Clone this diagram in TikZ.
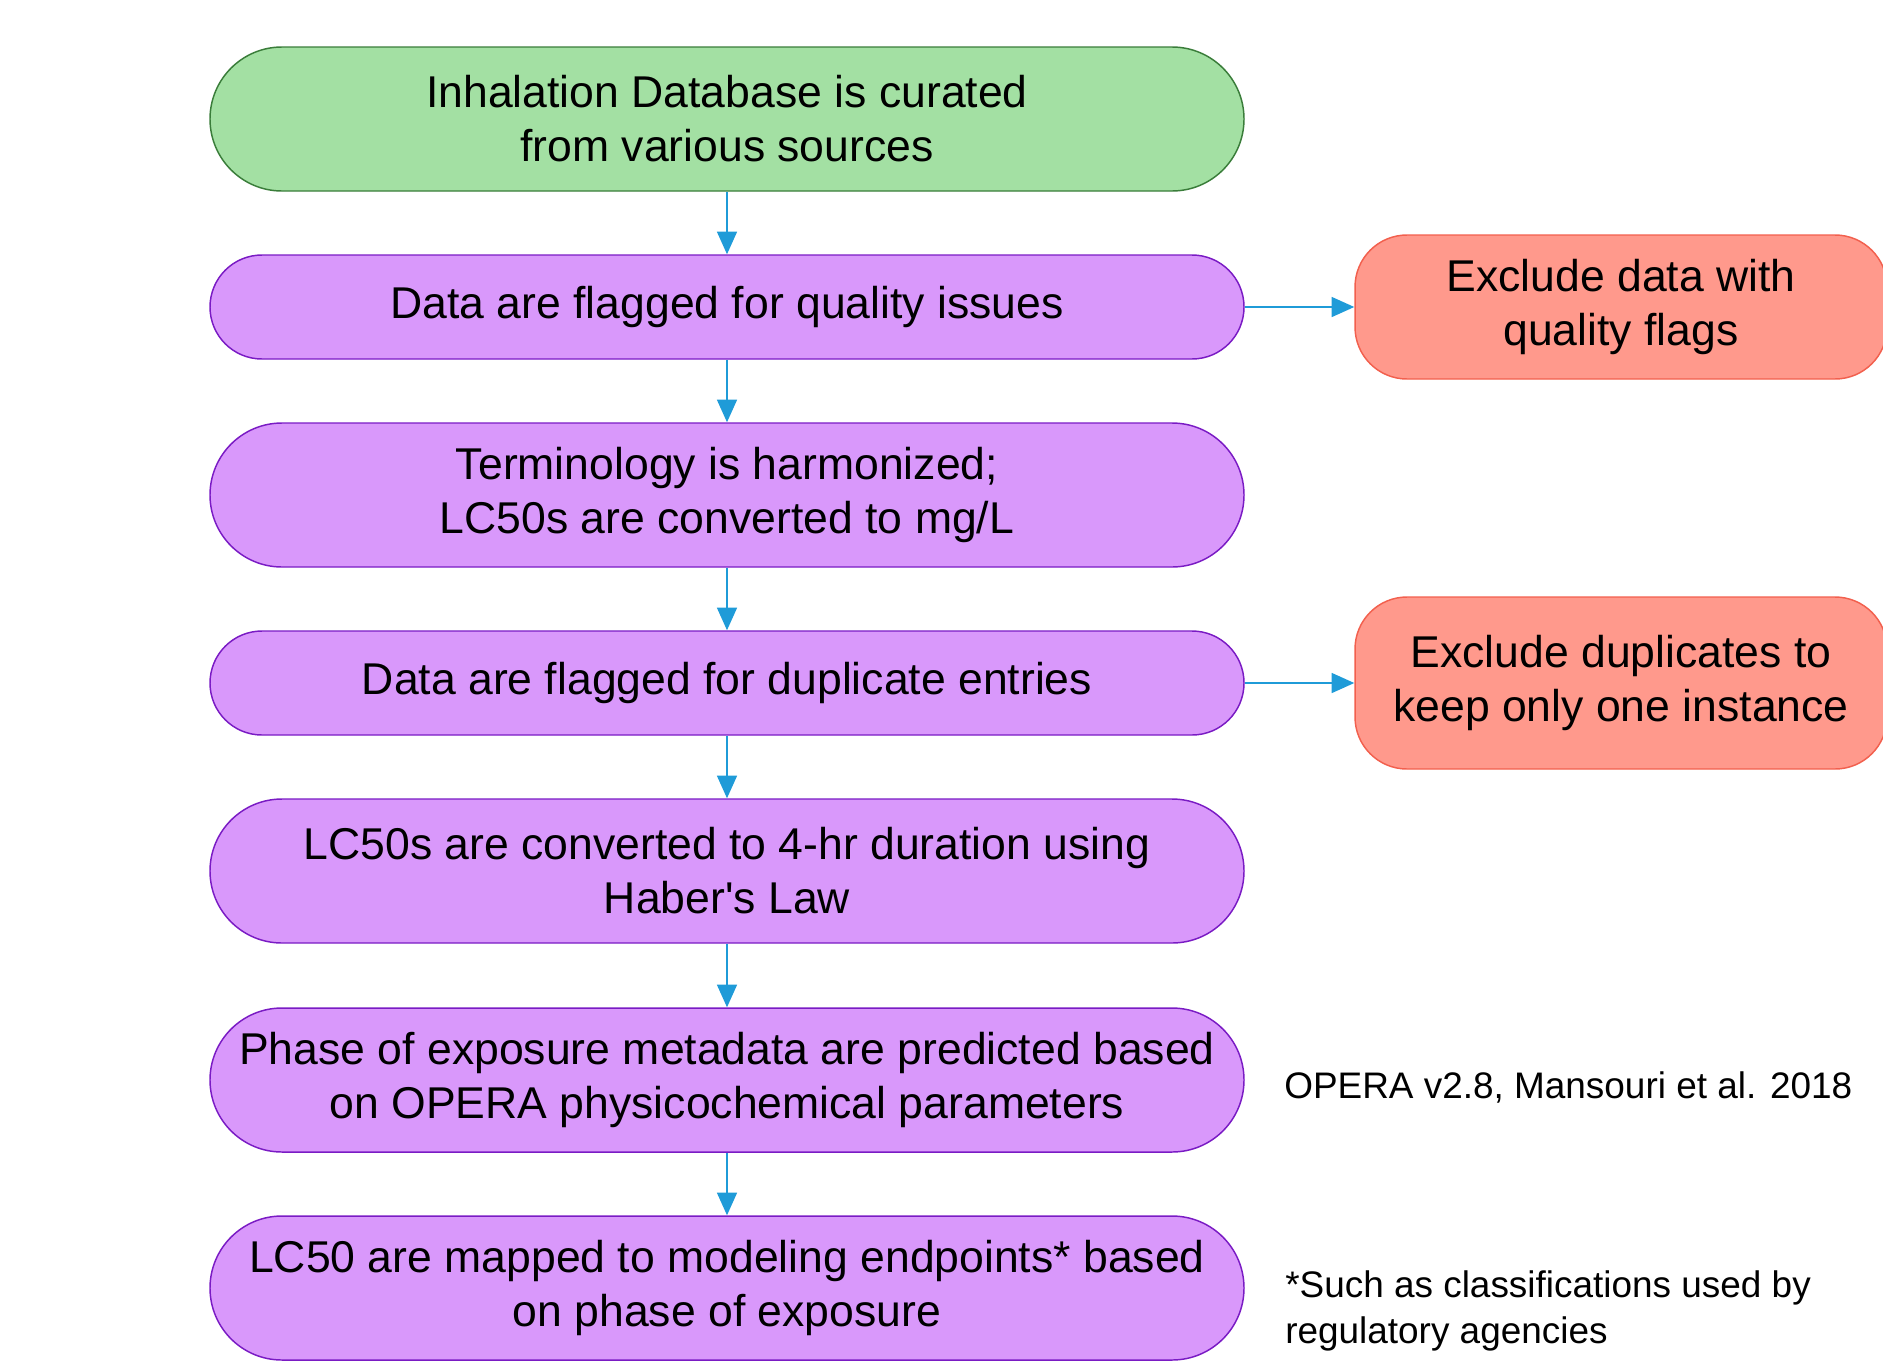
\documentclass[tikz,border=0pt]{standalone}
\usepackage{fontspec}
\newfontfamily\flowfont{Liberation Sans}
\usetikzlibrary{arrows.meta}

\definecolor{stepgreen}{HTML}{A3E0A3}
\definecolor{stepgreenline}{HTML}{3A7D3A}
\definecolor{steppurple}{HTML}{D998FB}
\definecolor{steppurpleline}{HTML}{7A1BC4}
\definecolor{dropred}{HTML}{FF998C}
\definecolor{dropredline}{HTML}{F2604E}
\definecolor{flowblue}{HTML}{1F9BD8}

\begin{document}
\begin{tikzpicture}[x=0.75pt,y=-0.75pt,
        stepbox/.style={draw=steppurpleline,fill=steppurple,line width=1.1pt,align=center,inner sep=0pt,
          minimum width=775.5pt,font=\flowfont\fontsize{33.4}{40.5}\selectfont},
        tallbox/.style={stepbox,minimum height=108pt,rounded corners=54pt},
        flatbox/.style={stepbox,minimum height=78pt,rounded corners=39pt},
        dropbox/.style={draw=dropredline,fill=dropred,line width=1.1pt,align=center,inner sep=0pt,
          minimum width=399pt,rounded corners=39pt,font=\flowfont\fontsize{33.4}{40.5}\selectfont},
        flow/.style={draw=flowblue,line width=1.2pt,-{Triangle[length=17pt,width=15pt]}},
        note/.style={anchor=west,align=left,inner sep=0pt,font=\flowfont\fontsize{27.7}{34}\selectfont}]
        \useasboundingbox (0,0) rectangle (1883,1360);

        % main column
        \node[tallbox,fill=stepgreen,draw=stepgreenline] (curate) at (727,119) {Inhalation Database is curated\\from various sources};
        \node[flatbox] (qflag)  at (727,307)  {Data are flagged for quality issues};
        \node[tallbox] (harmon) at (727,495)  {Terminology is harmonized;\\LC50s are converted to mg/L};
        \node[flatbox] (dflag)  at (727,683)  {Data are flagged for duplicate entries};
        \node[tallbox] (haber)  at (727,871)  {LC50s are converted to 4-hr duration using\\Haber's Law};
        \node[tallbox] (phase)  at (727,1080) {Phase of exposure metadata are predicted based\\on OPERA physicochemical parameters};
        \node[tallbox] (mapped) at (727,1288) {LC50 are mapped to modeling endpoints* based\\on phase of exposure};

        % exclusions
        \node[dropbox,minimum height=108pt] (qdrop) at (1621,307) {Exclude data with\\quality flags};
        \node[dropbox,minimum height=129pt] (ddrop) at (1621,683) {Exclude duplicates to\\keep only one instance};

        % side notes
        \node[note] (opera)   at (1284,1087) {OPERA v2.8, Mansouri et al. 2018};
        \node[note] (endnote) at (1285,1311) {*Such as classifications used by\\regulatory agencies};

        \draw[flow] (curate) -- (qflag);
        \draw[flow] (qflag) -- (harmon);
        \draw[flow] (harmon) -- (dflag);
        \draw[flow] (dflag) -- (haber);
        \draw[flow] (haber) -- (phase);
        \draw[flow] (phase) -- (mapped);
        \draw[flow] (qflag) -- (qdrop);
        \draw[flow] (dflag) -- (ddrop);
      \end{tikzpicture}
\end{document}
